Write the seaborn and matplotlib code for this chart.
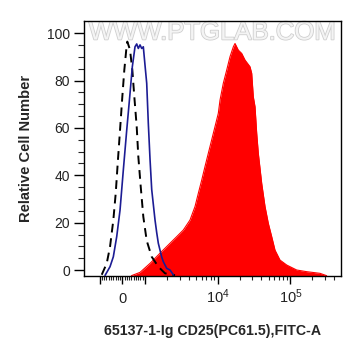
import numpy as np
import pandas as pd
import matplotlib
matplotlib.use("Agg")
import matplotlib.pyplot as plt
import matplotlib.patheffects as pe
import seaborn as sns

# control (dashed), isotype (blue line), CD25 stained (red fill)
ctrl_x = [-907, -687, -542, -396, -291, -203, -101, 0, 88, 194, 220, 339, 441, 529,
          634, 705, 811, 925, 1055, 1236, 1524, 1884, 2585]
ctrl_y = [-2, 2.8, 9.8, 21.1, 32.4, 45.1, 59.1, 73.2, 84.5, 95.1, 96.5, 93.0, 84.5, 73.2,
          60.5, 47.9, 35.2, 22.5, 12.4, 5.6, 1.4, -1.4, -2.2]

blue_x = [-762, -542, -396, -247, -101, 44, 194, 339, 441, 559, 634, 705, 780, 855, 925,
          1000, 1055, 1110, 1171, 1236, 1373, 1448, 1524, 1696, 1786, 1988, 2206, 2450]
blue_y = [-2.3, 1.4, 5.6, 14.1, 25.3, 42.2, 59.1, 74.6, 85.9, 94.3, 95.5, 93.6, 95.1, 93.6, 94.3,
          86.5, 78.9, 62.0, 47.0, 34.0, 21.1, 15.8, 11.3, 5.5, 3.5, 0.7, 0.0, -2.0]

red_x = [400, 780, 1172, 1608, 2208, 2730, 3365, 4156, 4871, 5411, 6026, 6683, 7424, 8264,
         9180, 10190, 10760, 11940, 13300, 14760, 16400, 17300, 19200, 21380, 23750, 27800,
         29350, 30880, 32600, 34400, 36200, 40300, 44770, 49700, 55300, 61400, 71900, 88900,
         122000, 167000, 255000, 315000]
red_y = [-2.4, -1.0, 2.8, 7.1, 11.3, 14.1, 16.9, 21.1, 26.8, 32.4, 38.0, 43.7, 49.3, 55.0,
         60.6, 66.2, 71.8, 78.9, 84.5, 90.1, 94.3, 95.7, 92.9, 91.5, 88.7, 85.9,
         83.1, 73.2, 69.0, 57.7, 49.3, 36.6, 26.8, 19.7, 14.1, 8.4, 4.2, 2.1,
         0.0, -0.7, -1.4, -2.4]

x_ticks = [-1000, 0, 1000, 1e4, 1e5]
x_ticklabels = ["", "0", "", r"$10^4$", r"$10^5$"]
y_ticks = [0, 20, 40, 60, 80, 100]

sns.set_style("ticks")
plt.rcParams["font.family"] = ["Liberation Sans", "DejaVu Sans"]
plt.rcParams["mathtext.fontset"] = "custom"
plt.rcParams["mathtext.rm"] = "Liberation Sans"
plt.rcParams["mathtext.it"] = "Liberation Sans"

fig = plt.figure(figsize=(3.61, 3.56), dpi=100)
ax = fig.add_axes([0.2327, 0.2256, 0.7111, 0.7154])

ymin, ymax = -2.4, 105.2

# watermark
ax.text(0.5, 0.955, "WWW.PTGLAB.COM", transform=ax.transAxes, ha="center", va="center",
        fontsize=18.5, color="#f4f4f4", zorder=0,
        path_effects=[pe.withStroke(linewidth=1.2, foreground="#cfcfcf")])

red = pd.DataFrame({"x": red_x, "y": red_y})
sns.lineplot(data=red, x="x", y="y", ax=ax, color="#ff0000", lw=0.8,
             sort=False, estimator=None, zorder=2)
ax.fill_between(red["x"], red["y"], ymin, color="#ff0000", lw=0, zorder=2)

ctrl = pd.DataFrame({"x": ctrl_x, "y": ctrl_y})
sns.lineplot(data=ctrl, x="x", y="y", ax=ax, color="black", lw=1.4,
             sort=False, estimator=None, zorder=3, dashes=False)
ax.lines[-1].set_dashes((4.5, 3))

blue = pd.DataFrame({"x": blue_x, "y": blue_y})
sns.lineplot(data=blue, x="x", y="y", ax=ax, color="#1c1c94", lw=1.2,
             sort=False, estimator=None, zorder=4)

ax.set_xscale("symlog", linthresh=1000, linscale=0.281)
ax.set_xlim(-1640, 4.92e5)
ax.set_ylim(ymin, ymax)

ax.set_xticks(x_ticks)
ax.set_xticklabels(x_ticklabels)
minor_x = list(range(-900, 0, 100)) + list(range(100, 1000, 100)) \
    + [k * 1000 for k in range(2, 10)] + [k * 10000 for k in range(2, 10)] \
    + [k * 100000 for k in range(2, 5)]
ax.set_xticks(minor_x, minor=True)
ax.set_yticks(y_ticks)
ax.set_yticks(np.arange(0, 101, 5), minor=True)

ax.tick_params(axis="x", which="major", length=6, width=1, pad=14, labelsize=10.5,
               colors="black", labelcolor="#222222")
ax.tick_params(axis="x", which="minor", length=3, width=0.8)
ax.tick_params(axis="y", which="major", length=7, width=1, pad=3, labelsize=10,
               colors="black", labelcolor="#222222")
ax.tick_params(axis="y", which="minor", length=4, width=0.8)
for lab in ax.get_xticklabels():
    lab.set_va("baseline")

for sp in ax.spines.values():
    sp.set_visible(True)
    sp.set_color("black")
    sp.set_linewidth(1.0)

ax.set_xlabel("65137-1-Ig CD25(PC61.5),FITC-A", fontsize=10.2, fontweight="bold")
ax.set_ylabel("Relative Cell Number", fontsize=10.6, fontweight="bold")
ax.xaxis.set_label_coords(0.5, -0.19)
ax.xaxis.label.set_va("top")
ax.xaxis.label.set_x(0.5)
ax.yaxis.set_label_coords(-0.198, 0.5)

fig.savefig("out.png", dpi=100)
